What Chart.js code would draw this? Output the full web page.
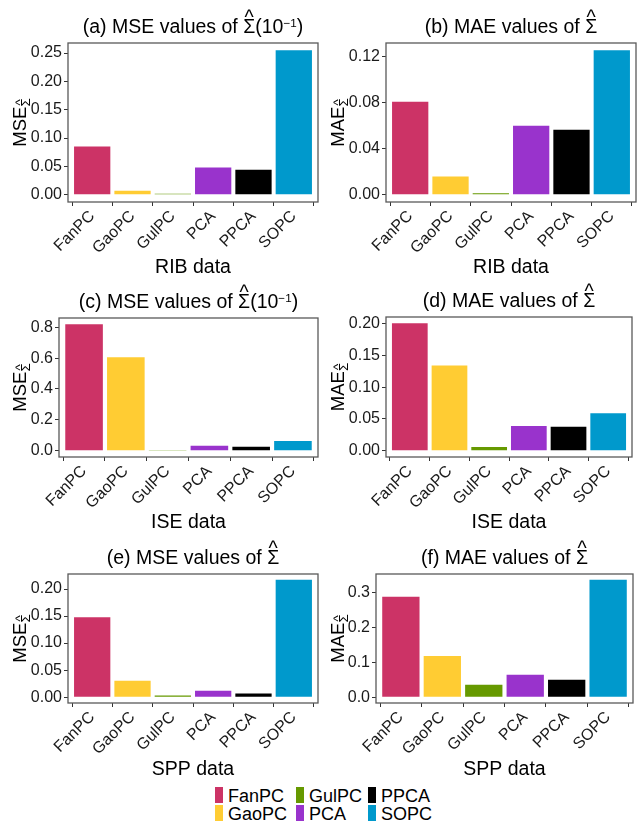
<!DOCTYPE html>
<html>
<head>
<meta charset="utf-8">
<script src="https://cdn.jsdelivr.net/npm/chart.js@4.4.1/dist/chart.umd.min.js"></script>
<style>
  html, body { margin: 0; padding: 0; background: #ffffff; }
  #wrap { position: relative; width: 637px; height: 825px; overflow: hidden; background: #fff; }
  canvas { position: absolute; }
  .lg { position: absolute; font-family: "Liberation Sans", Arial, sans-serif; font-size: 18px; color: #000; line-height: 18px; white-space: nowrap; }
  .key { position: absolute; width: 8px; height: 16px; }
</style>
</head>
<body>
<div id="wrap"></div>
<script>
// ---------------- data ----------------
const methods = ['FanPC', 'GaoPC', 'GulPC', 'PCA', 'PPCA', 'SOPC'];
const methodColors = ['#CC3366', '#FFCC33', '#669900', '#9933CC', '#000000', '#0099CC'];

const mseRIB = [0.085, 0.007, 0.002, 0.048, 0.044, 0.255];
const maeRIB = [0.0806, 0.0158, 0.0014, 0.0598, 0.0564, 0.1252];
const mseISE = [0.819, 0.606, 0.005, 0.032, 0.026, 0.062];
const maeISE = [0.2006, 0.134, 0.0057, 0.039, 0.0376, 0.059];
const mseSPP = [0.1476, 0.0305, 0.003, 0.012, 0.0067, 0.217];
const maeSPP = [0.2877, 0.118, 0.0358, 0.064, 0.050, 0.336];

const ticksA = ['0.00', '0.05', '0.10', '0.15', '0.20', '0.25'];
const ticksB = ['0.00', '0.04', '0.08', '0.12'];
const ticksC = ['0.0', '0.2', '0.4', '0.6', '0.8'];
const ticksD = ['0.00', '0.05', '0.10', '0.15', '0.20'];
const ticksE = ['0.00', '0.05', '0.10', '0.15', '0.20'];
const ticksF = ['0.0', '0.1', '0.2', '0.3'];

const panelTitles = [
  [{t: '(a) MSE values of '}, {t: 'Σ', hat: true}, {t: '(10'}, {t: '−1', sup: true}, {t: ')'}],
  [{t: '(b) MAE values of '}, {t: 'Σ', hat: true}],
  [{t: '(c) MSE values of '}, {t: 'Σ', hat: true}, {t: '(10'}, {t: '−1', sup: true}, {t: ')'}],
  [{t: '(d) MAE values of '}, {t: 'Σ', hat: true}],
  [{t: '(e) MSE values of '}, {t: 'Σ', hat: true}],
  [{t: '(f) MAE values of '}, {t: 'Σ', hat: true}]
];
const yTitleMSE = [{t: 'MSE'}, {t: 'Σ', hat: true, sub: true}];
const yTitleMAE = [{t: 'MAE'}, {t: 'Σ', hat: true, sub: true}];
const xTitles = ['RIB data', 'RIB data', 'ISE data', 'ISE data', 'SPP data', 'SPP data'];

// ---------------- layout ----------------
const FONT = '"Liberation Sans", Arial, sans-serif';
const panels = [
  {vals: mseRIB, ticks: ticksA, title: panelTitles[0], yt: yTitleMSE, xt: xTitles[0], left: 0,   top: 0,   w: 320, h: 280, pl: 68, pt: 43, pr: 318, pb: 202, xpad: 2.5},
  {vals: maeRIB, ticks: ticksB, title: panelTitles[1], yt: yTitleMAE, xt: xTitles[1], left: 318, top: 0,   w: 319, h: 280, pl: 68, pt: 43, pr: 318, pb: 202, xpad: 2.5},
  {vals: mseISE, ticks: ticksC, title: panelTitles[2], yt: yTitleMSE, xt: xTitles[2], left: 0,   top: 280, w: 320, h: 260, pl: 59, pt: 38, pr: 318, pb: 177, xpad: 7.5},
  {vals: maeISE, ticks: ticksD, title: panelTitles[3], yt: yTitleMAE, xt: xTitles[3], left: 318, top: 280, w: 319, h: 260, pl: 68, pt: 37, pr: 314, pb: 177, xpad: 7.5},
  {vals: mseSPP, ticks: ticksE, title: panelTitles[4], yt: yTitleMSE, xt: xTitles[4], left: 0,   top: 540, w: 320, h: 240, pl: 68, pt: 34, pr: 318, pb: 163, xpad: 0.5},
  {vals: maeSPP, ticks: ticksF, title: panelTitles[5], yt: yTitleMAE, xt: xTitles[5], left: 318, top: 540, w: 319, h: 240, pl: 58, pt: 34, pr: 315, pb: 163, xpad: 0.5}
];

function drawRich(ctx, segs, x, y, size, align) {
  const parts = segs.map(s => {
    const fs = s.sup ? size * 0.6 : (s.sub ? size * 0.72 : size);
    ctx.font = fs + 'px ' + FONT;
    return {s: s, fs: fs, w: ctx.measureText(s.t).width};
  });
  const total = parts.reduce((a, p) => a + p.w, 0);
  let cx = align === 'center' ? x - total / 2 : x;
  ctx.textAlign = 'left';
  ctx.textBaseline = 'alphabetic';
  ctx.fillStyle = '#000';
  for (const p of parts) {
    ctx.font = p.fs + 'px ' + FONT;
    const dy = p.s.sup ? -size * 0.3 : (p.s.sub ? size * 0.22 : 0);
    ctx.fillText(p.s.t, cx, y + dy);
    if (p.s.hat) {
      const hw = ctx.measureText('^').width;
      ctx.fillText('^', cx + p.w / 2 - hw / 2, y + dy - p.fs * 0.45);
    }
    cx += p.w;
  }
}

const wrap = document.getElementById('wrap');

panels.forEach(function (P) {
  const cv = document.createElement('canvas');
  cv.width = P.w; cv.height = P.h;
  cv.style.left = P.left + 'px'; cv.style.top = P.top + 'px';
  cv.style.width = P.w + 'px'; cv.style.height = P.h + 'px';
  wrap.appendChild(cv);

  const maxV = Math.max.apply(null, P.vals);
  const deco = {
    id: 'deco',
    afterDatasetsDraw(chart) {
      const a = chart.chartArea, ctx = chart.ctx;
      ctx.save();
      ctx.strokeStyle = '#595959';
      ctx.lineWidth = 1.3;
      ctx.strokeRect(a.left, a.top, a.right - a.left, a.bottom - a.top);
      ctx.restore();
    },
    afterDraw(chart) {
      const a = chart.chartArea, ctx = chart.ctx;
      ctx.save();
      drawRich(ctx, P.title, (a.left + a.right) / 2, a.top - 10, 19.5, 'center');
      ctx.translate(26, (a.top + a.bottom) / 2);
      ctx.rotate(-Math.PI / 2);
      drawRich(ctx, P.yt, 0, 0, 18.5, 'center');
      ctx.restore();
    }
  };

  new Chart(cv, {
    type: 'bar',
    data: {
      labels: methods,
      datasets: [{
        data: P.vals,
        backgroundColor: methodColors,
        borderWidth: 0,
        barPercentage: 0.9,
        categoryPercentage: 1.0
      }]
    },
    options: {
      responsive: false,
      devicePixelRatio: 1,
      animation: false,
      layout: { padding: { top: P.pt, right: P.w - P.pr, left: 0, bottom: 0 } },
      plugins: { legend: { display: false }, title: { display: false }, tooltip: { enabled: false } },
      scales: {
        x: {
          type: 'category',
          offset: true,
          afterBuildTicks(scale) {
            scale._startValue -= 0.1;
            scale._valueRange += 0.2;
          },
          afterFit(scale) { scale.height = P.h - P.pb; },
          grid: { display: true, drawOnChartArea: false, drawTicks: true, tickLength: 4, color: '#333', lineWidth: 1 },
          border: { display: false },
          ticks: {
            minRotation: 45, maxRotation: 45, autoSkip: false, padding: 1,
            color: '#1a1a1a', font: { family: FONT, size: 16 }
          },
          title: {
            display: true, text: P.xt, color: '#000',
            font: { family: FONT, size: 19.5, lineHeight: 1 },
            padding: { top: 0, bottom: P.xpad }
          }
        },
        y: {
          type: 'linear',
          min: -0.05 * maxV,
          max: 1.05 * maxV,
          afterBuildTicks(scale) {
            scale.ticks = P.ticks.map(s => ({value: parseFloat(s)}));
          },
          afterFit(scale) { scale.width = P.pl; },
          grid: { display: true, drawOnChartArea: false, drawTicks: true, tickLength: 4, color: '#333', lineWidth: 1 },
          border: { display: false },
          ticks: {
            padding: 2, color: '#1a1a1a', font: { family: FONT, size: 16 },
            callback: function (v, i) { return P.ticks[i]; }
          }
        }
      }
    },
    plugins: [deco]
  });
});

// ---------------- legend (2 rows, filled by column) ----------------
const legCols = [215, 296, 368];
const legRows = [787, 805];
methods.forEach(function (m, i) {
  const col = Math.floor(i / 2), row = i % 2;
  const k = document.createElement('div');
  k.className = 'key';
  k.style.left = legCols[col] + 'px';
  k.style.top = legRows[row] + 'px';
  k.style.background = methodColors[i];
  wrap.appendChild(k);
  const t = document.createElement('div');
  t.className = 'lg';
  t.textContent = m;
  t.style.left = (legCols[col] + 13) + 'px';
  t.style.top = (legRows[row] - 0.5) + 'px';
  wrap.appendChild(t);
});
</script>
</body>
</html>
